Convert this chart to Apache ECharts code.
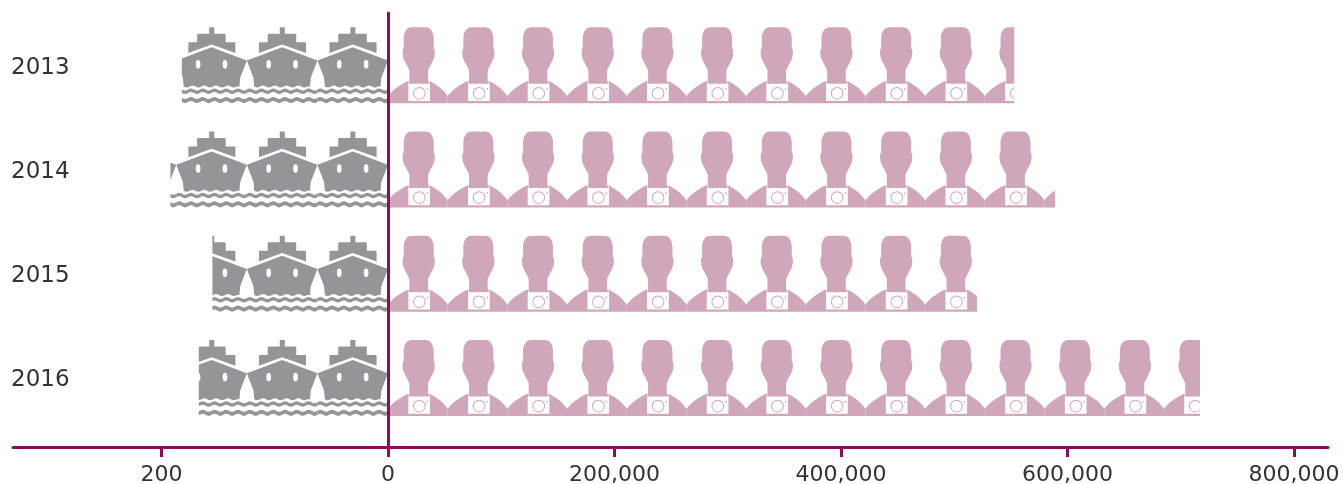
<!DOCTYPE html>
<html>
<head>
<meta charset="utf-8">
<style>html,body{margin:0;padding:0;background:#fff}#chart{width:1343px;height:484px}</style>
<script src="https://cdn.jsdelivr.net/npm/echarts@6/dist/echarts.min.js"></script>
</head>
<body>
<div id="chart"></div>
<script>
const years = ['2013', '2014', '2015', '2016'];
const shipValues = [182, 192, 155, 167];
const visitorValues = [553000, 589000, 520000, 717000];
const shipTicks = [0, 200];
const visitorTicks = [200000, 400000, 600000, 800000];

// Each icon stands for a fixed amount, so a row is a run of equal tiles cut off at its value.
const SHIPS_PER_ICON = 62.3;
const VISITORS_PER_ICON = 52700;
const SHIP_TILES = 5;
const VISITOR_TILES = 16;

const AXIS_COLOR = '#8e0a5c';
const TEXT_COLOR = '#333333';
const FONT = '"DejaVu Sans", sans-serif';

// Two scalloped bands of water below the hull, six waves across the icon.
function waveBand(y, h) {
  const top = 'q 8.75 6 17.5 0 q 8.75 -6 17.5 0 '.repeat(6);
  const bottom = 'q -8.75 -6 -17.5 0 q -8.75 6 -17.5 0 '.repeat(6);
  return 'M 0 ' + y + ' ' + top + 'L 210 ' + (y + h) + ' ' + bottom + 'Z ';
}

const hullEdge = 'Q 179 183 170 177 Q 161 171 153 177 Q 144 183 135 177 Q 126 171 118 177 ' +
  'Q 109 183 100 177 Q 91 171 83 177 Q 74 183 65 177 Q 56 171 48 177 Q 39 183 30 177 L 22 177 ';

const shipIcon = 'path://' +
  // funnel and stepped decks
  'M 97 0 L 112 0 L 112 20 L 146 20 L 148 22 L 148 45 L 172 45 L 174 47 L 174 77 L 105 52 ' +
  'L 34 77 L 34 47 L 36 45 L 63 45 L 63 22 L 65 20 L 97 20 Z ' +
  // hull
  'M 105 60 L 210 100 L 190 152 L 188 177 ' + hullEdge + 'L 20 152 L 0 100 Z ' +
  // portholes
  'M 58 111 A 7 13 0 1 0 72 111 A 7 13 0 1 0 58 111 Z ' +
  'M 138 111 A 7 13 0 1 0 152 111 A 7 13 0 1 0 138 111 Z ' +
  waveBand(186, 11) + waveBand(212, 12);

const visitorIcon = 'path://' +
  // head, neck and shoulders
  'M 72 0 L 112 0 C 128 0 137 14 137 34 L 137 62 C 140 66 141 72 140 82 C 139 92 136 98 131 106 ' +
  'L 120 128 L 120 160 L 126 160 C 145 170 165 182 179 204 L 179 225 L 0 225 L 0 204 ' +
  'C 14 184 38 170 58 160 L 64 160 L 64 128 L 53 106 C 48 98 45 92 44 82 C 43 72 44 66 47 62 ' +
  'L 47 34 C 47 14 56 0 72 0 Z ' +
  // camera body with its two strap lines
  'M 61 168 L 61 219 L 126 219 L 126 168 L 125 168 L 125 162 L 123 162 L 123 168 ' +
  'L 64 168 L 64 162 L 62 162 L 62 168 Z ' +
  // lens ring
  'M 75 196 A 19 19 0 1 1 113 196 A 19 19 0 1 1 75 196 Z ' +
  'M 78 196 A 16 16 0 1 0 110 196 A 16 16 0 1 0 78 196 Z ' +
  // camera indicator dot
  'M 116 183 A 2.5 2.5 0 1 1 121 183 A 2.5 2.5 0 1 1 116 183 Z';

const axisLineStyle = { color: AXIS_COLOR, width: 3 };
const labelStyle = { color: TEXT_COLOR, fontFamily: FONT, fontSize: 22 };

function bottomAxis(gridIndex, extra) {
  return Object.assign({
    type: 'value',
    gridIndex,
    position: 'bottom',
    offset: 17,
    z: 10,
    splitLine: { show: false },
    axisLine: { show: true, onZero: false, lineStyle: axisLineStyle },
  }, extra);
}

const chart = echarts.init(document.getElementById('chart'), null, { renderer: 'canvas' });
chart.setOption({
  animation: false,
  backgroundColor: '#ffffff',
  grid: [
    { left: 13, top: 13, width: 375, height: 417, outerBoundsMode: 'none' },
    { left: 388, top: 13, width: 940, height: 417, outerBoundsMode: 'none' },
    { left: 388, top: 13, width: 940, height: 434, outerBoundsMode: 'none' },
  ],
  xAxis: [
    bottomAxis(0, {
      inverse: true,
      min: 0,
      max: 331,
      axisTick: { show: true, length: 10, customValues: shipTicks, lineStyle: axisLineStyle },
      axisLabel: Object.assign({ margin: 17, customValues: shipTicks }, labelStyle),
    }),
    bottomAxis(1, {
      min: 0,
      max: 830000,
      axisTick: { show: true, length: 10, customValues: visitorTicks, lineStyle: axisLineStyle },
      axisLabel: Object.assign({
        margin: 17,
        customValues: visitorTicks,
        formatter: (v) => echarts.format.addCommas(v),
      }, labelStyle),
    }),
    { type: 'value', gridIndex: 2, show: false },
  ],
  yAxis: [
    {
      type: 'category',
      gridIndex: 0,
      position: 'left',
      inverse: true,
      data: years,
      axisLine: { show: false, onZero: false },
      axisTick: { show: false },
      axisLabel: {
        align: 'left',
        margin: 2,
        formatter: (v) => '{year|' + v + '}',
        rich: { year: { color: TEXT_COLOR, fontFamily: FONT, fontSize: 23, padding: [5, 0, 0, 0] } },
      },
    },
    {
      type: 'category',
      gridIndex: 1,
      inverse: true,
      data: years,
      show: false,
    },
    {
      // divider running from the top of the plot down to the horizontal axis
      type: 'value',
      gridIndex: 2,
      z: 10,
      splitLine: { show: false },
      axisTick: { show: false },
      axisLabel: { show: false },
      axisLine: { show: true, onZero: false, lineStyle: axisLineStyle },
    },
  ],
  series: [
    {
      name: 'Ships',
      type: 'pictorialBar',
      xAxisIndex: 0,
      yAxisIndex: 0,
      symbol: shipIcon,
      symbolSize: [70.6, 76],
      symbolRepeat: SHIP_TILES,
      symbolBoundingData: SHIPS_PER_ICON * SHIP_TILES,
      symbolClip: true,
      symbolMargin: 0,
      itemStyle: { color: '#939598' },
      data: shipValues,
    },
    {
      name: 'Visitors',
      type: 'pictorialBar',
      xAxisIndex: 1,
      yAxisIndex: 1,
      symbol: visitorIcon,
      symbolSize: [59.7, 76],
      symbolRepeat: VISITOR_TILES,
      symbolBoundingData: VISITORS_PER_ICON * VISITOR_TILES,
      symbolClip: true,
      symbolMargin: 0,
      itemStyle: { color: '#d0a6bb' },
      data: visitorValues,
    },
  ],
});
</script>
</body>
</html>
